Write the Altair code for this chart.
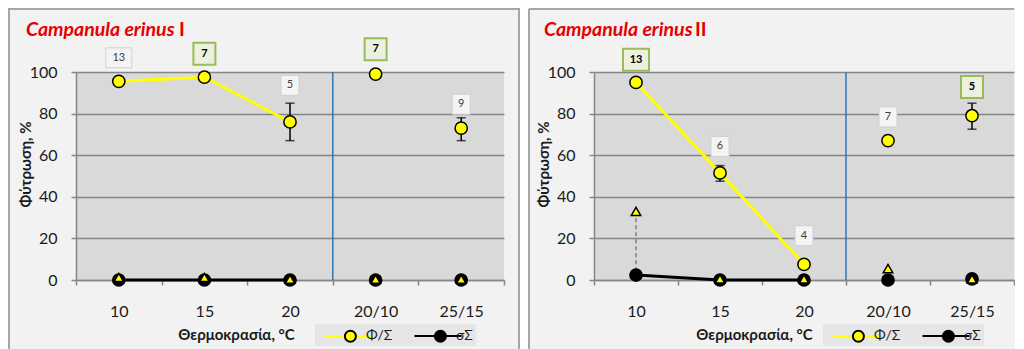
import altair as alt
import pandas as pd

# ---------------- data ----------------
categories = ["10", "15", "20", "20/10", "25/15"]
connected = ["10", "15", "20"]
# the second legend name carries a leading en space so its label clears the legend line
series_names = ["Φ/Σ", "\u2002σΣ"]

# Panel I
phi_I = [95.5, 97.5, 76.0, 99.0, 73.0]
phi_I_lo = [94.0, 96.0, 67.0, 98.0, 67.0]
phi_I_hi = [97.0, 99.0, 85.0, 100.0, 78.0]
sig_I = [0.0, 0.0, 0.0, 0.0, 0.0]
tri_I = [1.2, 1.2, 0.4, 0.4, 0.4]
n_I = ["13", "7", "5", "7", "9"]
hl_I = [False, True, False, True, False]
ny_I = [106.8, 108.8, 93.6, 110.9, 84.5]

# Panel II
phi_II = [95.0, 51.5, 7.5, 67.0, 79.0]
phi_II_lo = [95.0, 47.5, 6.0, 66.0, 72.5]
phi_II_hi = [95.0, 55.0, 9.0, 68.0, 85.0]
sig_II = [2.4, 0.0, 0.0, 0.0, 0.5]
tri_II = [33.0, 0.5, 0.5, 5.5, 0.5]
n_II = ["13", "6", "4", "7", "5"]
hl_II = [True, False, False, False, True]
ny_II = [105.9, 64.2, 21.3, 78.4, 92.8]

y_ticks = [0, 20, 40, 60, 80, 100]

# ---------------- style ----------------
FONT = "Lato"
H = 208
YELLOW = "#ffff00"
GRID = "#868686"
TXT = "#1a1a1a"
BORDER = "#a6a6a6"

x_axis = alt.Axis(
    title="Θερμοκρασία, °C", labelAngle=0, tickBand="extent", tickSize=5, tickWidth=1.5,
    tickColor=GRID, domainColor=GRID, domainWidth=1.5, labelPadding=18, labelFontSize=16,
    labelColor=TXT, labelFont=FONT, titleFont=FONT, titleFontSize=15, titleFontWeight="bold",
    titleColor=TXT, titleX=160, titleY=54, titleBaseline="middle", titleAlign="center", grid=False,
)
y_axis = alt.Axis(
    title="Φύτρωση, %", values=y_ticks, grid=True, gridColor=GRID, gridWidth=1.3, tickSize=5,
    tickWidth=1.5, tickColor=GRID, domainColor=GRID, domainWidth=1.5, labelPadding=14,
    labelFontSize=16, labelColor=TXT, labelFont=FONT, titleFont=FONT, titleFontSize=15,
    titleFontWeight="bold", titleColor=TXT, titleX=-51, titleY=92, titleAngle=270,
    titleBaseline="middle", titleAlign="center",
)


def xenc(**kw):
    return alt.X("cat:N", sort=categories,
                 scale=alt.Scale(domain=categories, paddingInner=0, paddingOuter=0),
                 axis=x_axis, **kw)


def yenc(field):
    return alt.Y(f"{field}:Q", scale=alt.Scale(domain=[0, 100], nice=False), axis=y_axis)


def box_shape(label, green):
    w = 26 if len(label) > 1 else (22 if green else 18)
    h = 22 if green else 20
    s = max(w, h)
    return f"M{-w/s:.3f},{-h/s:.3f}H{w/s:.3f}V{h/s:.3f}H{-w/s:.3f}Z", s * s


# legend symbols: 16px layout box, drawn wider through custom paths
LEG_Y = 252
SYM = 256
line_path = "M-2.94,0H2.94"
r = 0.69
cx = 0.3
circle_path = f"M{cx + r:.3f},0A{r},{r},0,1,1,{cx - r:.3f},0A{r},{r},0,1,1,{cx + r:.3f},0Z"
leg_common = dict(
    title=None, orient="none", legendY=LEG_Y, direction="horizontal", columns=2,
    symbolSize=SYM, symbolStrokeWidth=2, symbolOffset=21, labelOffset=9, labelFont=FONT,
    labelFontSize=14, labelColor=TXT, padding=3, columnPadding=15,
)
# marker-legend names: same visible text plus a zero-width space, so the two legends stay separate
marker_names = [s + "\u200b" for s in series_names]


def panel(name, num, num_x, W, leg_x, phi, lo, hi, sig, tri, n, hl, ny, left, first):
    one = alt.Data(values=[{"k": 1}])

    layers = []
    if first:
        layers.append(alt.Chart(one).mark_rect(fillOpacity=0, stroke=BORDER, strokeWidth=2).encode(
            x=alt.value(-left), x2=alt.value(W + 15), y=alt.value(-63), y2=alt.value(H + 85)))
        layers.append(alt.Chart(one).mark_rect(color="white").encode(
            x=alt.value(W + 16), x2=alt.value(W + 24), y=alt.value(-64), y2=alt.value(H + 86)))
    else:
        layers.append(alt.Chart(one).mark_rule(stroke=BORDER, strokeWidth=2).encode(
            x=alt.value(-left), y=alt.value(-63), y2=alt.value(H + 85)))
        layers.append(alt.Chart(one).mark_rule(stroke=BORDER, strokeWidth=2).encode(
            x=alt.value(-left), x2=alt.value(W), y=alt.value(-63)))

    sep = alt.Chart(pd.DataFrame({"cat": ["20/10"]})).mark_rule(
        color="#2e75b6", strokeWidth=1.5).encode(x=xenc(bandPosition=0))

    drop = pd.DataFrame({"cat": categories, "top": tri, "bot": sig})
    drop = drop[drop.cat.isin(connected)]
    drop_layer = alt.Chart(drop).mark_rule(color="#7f7f7f", strokeWidth=1.5, strokeDash=[4, 3]).encode(
        x=xenc(), y=yenc("top"), y2="bot:Q")

    rows = [dict(cat=c, series=series_names[1], val=sig[i]) for i, c in enumerate(categories)]
    rows += [dict(cat=c, series=series_names[0], val=phi[i]) for i, c in enumerate(categories)]
    pts = pd.DataFrame(rows)
    pts["marker"] = pts["series"] + "\u200b"
    line_df = pts[pts.cat.isin(connected)]

    line_legend = alt.Legend(symbolType=line_path, fillColor="#e6e6e6", legendX=leg_x, **leg_common)
    fill_legend = alt.Legend(symbolType=circle_path, symbolStrokeColor="black", labelOpacity=0,
                             legendX=leg_x, **leg_common)

    lines = alt.Chart(line_df).mark_line(strokeWidth=3).encode(
        x=xenc(), y=yenc("val"),
        color=alt.Color("series:N", scale=alt.Scale(domain=series_names, range=[YELLOW, "black"]),
                        legend=line_legend))

    err = pd.DataFrame({"cat": categories, "lo": lo, "hi": hi})
    err_rule = alt.Chart(err).mark_rule(color="black", strokeWidth=1.5).encode(
        x=xenc(), y=yenc("lo"), y2="hi:Q")
    err_caps = alt.Chart(err).transform_fold(["lo", "hi"], as_=["end", "v"]).mark_tick(
        color="black", thickness=1.5, size=9).encode(x=xenc(), y=yenc("v"))

    circ = alt.Chart(pts).mark_point(shape="circle", filled=True, opacity=1, size=150,
                                      stroke="black", strokeWidth=1.5).encode(
        x=xenc(), y=yenc("val"),
        fill=alt.Fill("marker:N", scale=alt.Scale(domain=marker_names, range=[YELLOW, "black"]),
                      legend=fill_legend))

    tri_df = pd.DataFrame({"cat": categories, "val": tri})
    tris = alt.Chart(tri_df).mark_point(shape="triangle-up", filled=True, opacity=1, size=90,
                                        fill=YELLOW, stroke="black", strokeWidth=1.5).encode(
        x=xenc(), y=yenc("val"))

    lab_rows = []
    for i, c in enumerate(categories):
        shp, sz = box_shape(n[i], hl[i])
        lab_rows.append(dict(cat=c, n=n[i], hl=hl[i], ny=ny[i], shp=shp, sz=sz))
    lab = pd.DataFrame(lab_rows)
    plain = lab[~lab.hl]
    green = lab[lab.hl]

    box_plain = alt.Chart(plain).mark_point(filled=True, opacity=1, fill="#f4f4f4",
                                             stroke="#d0d0d0", strokeWidth=1).encode(
        x=xenc(), y=yenc("ny"), shape=alt.Shape("shp:N", scale=None), size=alt.Size("sz:Q", scale=None))
    box_green = alt.Chart(green).mark_point(filled=True, opacity=1, fill="#ebf1de",
                                             stroke="#9bbb59", strokeWidth=2).encode(
        x=xenc(), y=yenc("ny"), shape=alt.Shape("shp:N", scale=None), size=alt.Size("sz:Q", scale=None))
    txt_plain = alt.Chart(plain).mark_text(font=FONT, fontSize=11, color="#404040").encode(
        x=xenc(), y=yenc("ny"), text="n:N")
    txt_green = alt.Chart(green).mark_text(font=FONT, fontSize=11, fontWeight="bold", color="black").encode(
        x=xenc(), y=yenc("ny"), text="n:N")

    t1 = alt.Chart(one).mark_text(font=FONT, fontSize=19.5, fontWeight="bold", fontStyle="italic",
                                  color="#e60000", align="left", baseline="alphabetic").encode(
        x=alt.value(-50), y=alt.value(-36), text=alt.value(name))
    t2 = alt.Chart(one).mark_text(font=FONT, fontSize=19.5, fontWeight="bold",
                                  color="#e60000", align="left", baseline="alphabetic").encode(
        x=alt.value(num_x), y=alt.value(-36), text=alt.value(num))

    layers += [sep, drop_layer, lines, err_rule, err_caps, circ, tris,
               box_plain, box_green, txt_plain, txt_green, t1, t2]
    return alt.layer(*layers).properties(width=W, height=H)


left = panel("Campanula erinus", "I", 103, 428, 239, phi_I, phi_I_lo, phi_I_hi, sig_I, tri_I,
             n_I, hl_I, ny_I, 67, True)
right = panel("Campanula erinus", "II", 101, 420, 229, phi_II, phi_II_lo, phi_II_hi, sig_II, tri_II,
              n_II, hl_II, ny_II, 65, False)

chart = (
    alt.hconcat(left, right, spacing=0)
    .resolve_scale(color="independent", fill="independent")
    .resolve_legend(color="independent", fill="independent")
    .properties(background="#f2f2f2", padding=0)
    .configure(font=FONT)
    .configure_view(fill="#d9d9d9", strokeWidth=0)
)

chart.save("out.html", embed_options={"renderer": "svg", "actions": False})
